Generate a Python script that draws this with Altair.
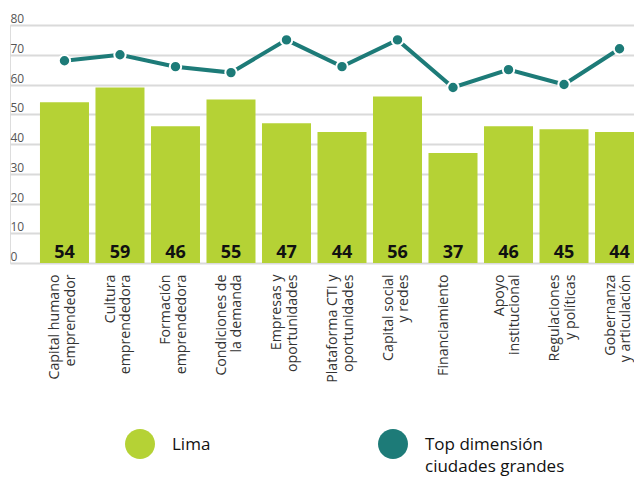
import altair as alt
import pandas as pd

# ---- data -------------------------------------------------------------
categories = [
    "Capital humano\nemprendedor",
    "Cultura\nemprendedora",
    "Formación\nemprendedora",
    "Condiciones de\nla demanda",
    "Empresas y\noportunidades",
    "Plataforma CTI y\noportunidades",
    "Capital social\ny redes",
    "Financiamiento",
    "Apoyo\ninstitucional",
    "Regulaciones\ny políticas",
    "Gobernanza\ny articulación",
]
lima = [54, 59, 46, 55, 47, 44, 56, 37, 46, 45, 44]
top_ciudades = [68, 70, 66, 64, 75, 66, 75, 59, 65, 60, 72]
series_names = ["Lima", "Top dimensión ciudades grandes"]
y_ticks = [0, 10, 20, 30, 40, 50, 60, 70, 80]

GREEN = "#b5d235"
TEAL = "#1d7b78"
FONT = "Open Sans"

df_bars = pd.DataFrame({"cat": categories, "value": lima, "series": series_names[0]})
df_line = pd.DataFrame({"cat": categories, "value": top_ciudades, "series": series_names[1]})

x_enc = alt.X(
    "cat:N",
    sort=categories,
    title=None,
    scale=alt.Scale(range=[0, 664], paddingInner=0.117, paddingOuter=0.54),
    axis=alt.Axis(
        labelAngle=-90,
        labelAlign="right",
        labelBaseline="bottom",
        labelOffset=-2,
        labelPadding=11,
        labelExpr="split(datum.label, '\\n')",
        labelFont=FONT,
        labelFontSize=14.2,
        labelLineHeight=15.5,
        labelColor="#333333",
        labelLimit=300,
        ticks=False,
        tickSize=0,
        domain=False,
        grid=False,
    ),
)

y_scale = alt.Scale(domain=[0, 80], nice=False)
y_axis = alt.Axis(
    values=y_ticks,
    labelAlign="left",
    labelBaseline="alphabetic",
    labelPadding=0,
    labelOffset=-2.5,
    labelOverlap=False,
    ticks=False,
    tickSize=0,
    domain=False,
    grid=True,
    gridColor="#dadada",
    gridWidth=2,
    labelFont=FONT,
    labelFontSize=12,
    labelColor="#555555",
)
y_enc = alt.Y("value:Q", scale=y_scale, title=None, axis=y_axis)

circle_path = "M -1 0.47 A 1 1 0 1 0 1 0.47 A 1 1 0 1 0 -1 0.47 Z"

bars = alt.Chart(df_bars).mark_bar().encode(
    x=x_enc,
    y=y_enc,
    color=alt.Color(
        "series:N",
        scale=alt.Scale(domain=series_names, range=[GREEN, TEAL]),
        legend=alt.Legend(
            title=None,
            orient="none",
            legendX=115,
            legendY=397,
            direction="horizontal",
            columns=2,
            symbolType=circle_path,
            symbolSize=900,
            symbolStrokeWidth=0,
            symbolOpacity=1,
            labelFont=FONT,
            labelFontSize=17,
            labelFontWeight=500,
            labelColor="#111111",
            labelBaseline="top",
            labelOffset=17,
            labelLimit=300,
            columnPadding=167,
            padding=0,
            labelExpr="datum.label == 'Top dimensión ciudades grandes' ? ['Top dimensión', 'ciudades grandes'] : [datum.label, ' ']",
        ),
    ),
)

labels = alt.Chart(df_bars).mark_text(
    baseline="alphabetic", dy=-5, fontSize=18, fontWeight="bold", font=FONT, color="#111111"
).encode(
    x=x_enc,
    y=alt.YDatum(0, type="quantitative", scale=y_scale, axis=y_axis),
    text="value:Q",
)

line = alt.Chart(df_line).mark_line(strokeWidth=4, color=TEAL).encode(x=x_enc, y=y_enc)

points = alt.Chart(df_line).mark_point(
    filled=True, size=130, fill=TEAL, stroke="white", strokeWidth=2, opacity=1
).encode(x=x_enc, y=y_enc)

chart = (
    alt.layer(bars, labels, line, points)
    .properties(
        width=624,
        height=238,
        autosize=alt.AutoSizeParams(type="none"),
        padding={"left": 2, "top": 17, "right": 0, "bottom": 213},
    )
    .configure_view(stroke=None)
    .configure(background="white", style={"guide-label": {"lineHeight": 22}})
)

chart.save("out.html", embed_options={"renderer": "svg", "actions": False})
